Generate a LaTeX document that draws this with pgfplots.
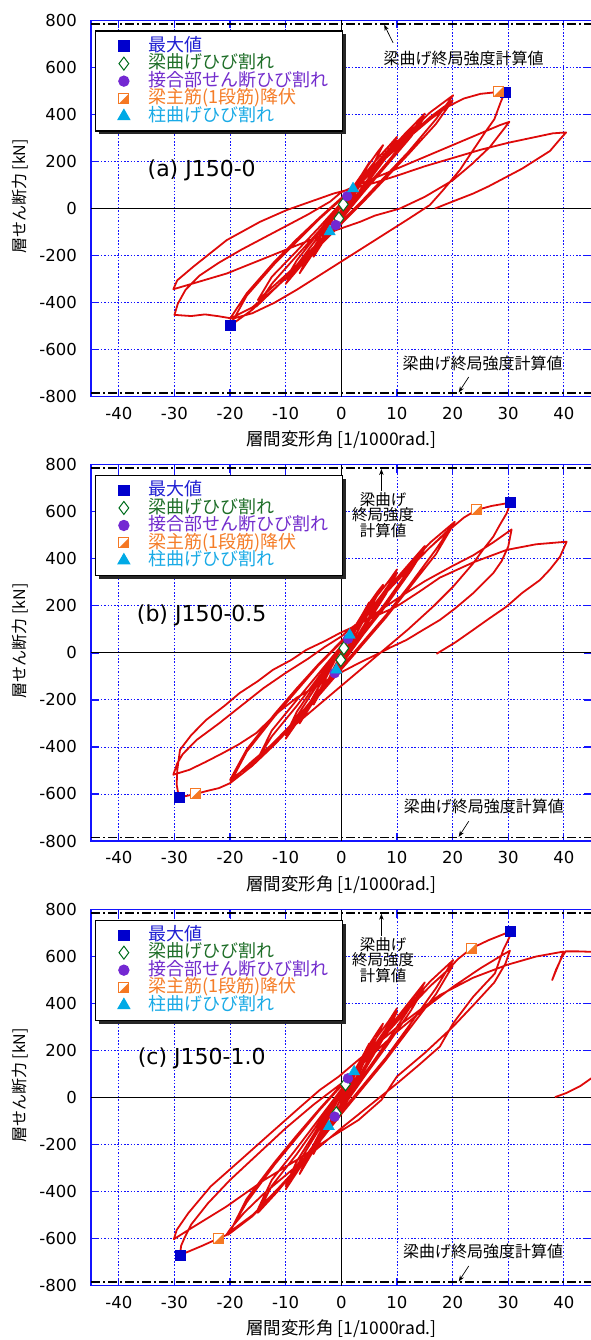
\documentclass[border=0pt]{standalone}
\usepackage{fontspec}
\setmainfont{DejaVu Sans}
\newfontfamily\cjk{Noto Sans CJK JP}
\usepackage{pgfplots}
\pgfplotsset{compat=1.18}
\usetikzlibrary{arrows.meta,plotmarks}

\definecolor{cmax}{RGB}{0,0,205}
\definecolor{cgreen}{RGB}{0,110,30}
\definecolor{cpurple}{RGB}{115,40,210}
\definecolor{corange}{RGB}{245,120,35}
\definecolor{ccyan}{RGB}{0,170,230}
\definecolor{cred}{RGB}{222,10,10}
\definecolor{cgrid}{RGB}{20,20,255}
\definecolor{lmax}{RGB}{30,30,210}
\definecolor{lgreen}{RGB}{30,110,40}
\definecolor{lpurple}{RGB}{115,45,205}
\definecolor{lorange}{RGB}{245,125,40}
\definecolor{lcyan}{RGB}{25,170,230}

\pgfdeclareplotmark{diagsq}{%
  \pgfpathrectangle{\pgfqpoint{-\pgfplotmarksize}{-\pgfplotmarksize}}{\pgfqpoint{2\pgfplotmarksize}{2\pgfplotmarksize}}%
  \pgfsetfillcolor{white}\pgfusepath{fill}%
  \pgfpathmoveto{\pgfqpoint{\pgfplotmarksize}{\pgfplotmarksize}}%
  \pgfpathlineto{\pgfqpoint{\pgfplotmarksize}{-\pgfplotmarksize}}%
  \pgfpathlineto{\pgfqpoint{-\pgfplotmarksize}{-\pgfplotmarksize}}%
  \pgfpathclose
  \pgfsetfillcolor{corange}\pgfusepath{fill}%
  \pgfpathrectangle{\pgfqpoint{-\pgfplotmarksize}{-\pgfplotmarksize}}{\pgfqpoint{2\pgfplotmarksize}{2\pgfplotmarksize}}%
  \pgfusepath{stroke}%
}

\newcommand{\lgtext}[2]{\makebox[170.3pt][l]{\cjk\fontsize{18}{18}\selectfont\textcolor{#1}{#2}}}
\newcommand{\lgshadow}{\fill[black!85] ([xshift=7.5pt,yshift=-14pt]rel axis cs:0,1) rectangle ([xshift=254.7pt,yshift=-114pt]rel axis cs:0,1);}

\pgfplotsset{
  lgmark/.style={legend image code/.code={\draw[##1] plot coordinates {(0pt,0pt)};}},
  hyst/.style={
    width=500.7pt, height=376.2pt, scale only axis,
    xmin=-45, xmax=45, ymin=-800, ymax=800,
    xtick={-40,-30,...,40}, ytick={-800,-600,...,800},
    grid=major,
    major grid style={cgrid, line width=0.9pt, dash pattern=on 1.5pt off 1.8pt},
    axis line style={cgrid, line width=1.3pt},
    tick style={cgrid, line width=1.2pt},
    major tick length=8pt,
    /pgf/number format/assume math mode=true,
    ticklabel style={font=\fontsize{16.5}{18}\selectfont},
    yticklabel style={inner sep=0pt, xshift=-14pt},
    xticklabel style={inner sep=0pt, yshift=-10.5pt},
    xlabel={\cjk 層間変形角 [1/1000rad.]},
    xlabel style={at={(axis description cs:0.5,-0.1151)}, anchor=center, inner sep=0pt, font=\fontsize{17.5}{18}\selectfont},
    ylabel={\cjk 層せん断力 [kN]},
    ylabel style={at={(axis description cs:-0.1418,0.532)}, anchor=center, inner sep=0pt, font=\fontsize{16}{18}\selectfont},
    legend cell align=left,
    legend style={at={(axis description cs:0,1)}, anchor=north west, xshift=3.5pt, yshift=-10pt,
      draw=black, line width=1.3pt, fill=white, inner xsep=23.1pt, inner ysep=6.25pt,
      row sep=0pt, column sep=19.3pt,
      nodes={inner sep=0pt, anchor=west, text height=14pt, text depth=3.5pt}},
    redc/.style={cred, line width=1.8pt, line join=round, forget plot},
    zerol/.style={black, line width=0.9pt, forget plot},
    calcl/.style={black, line width=1.8pt, dash pattern=on 9pt off 3pt on 2pt off 3pt, forget plot},
  },
  mmax/.style={only marks, mark=square*, mark size=5pt, color=cmax, lgmark},
  mdia/.style={only marks, mark=diamond*, mark size=6.5pt, color=cgreen, mark options={draw=cgreen, fill=white, line width=1pt}, lgmark},
  mcir/.style={only marks, mark=*, mark size=5pt, color=cpurple, lgmark},
  mora/.style={only marks, mark=diagsq, mark size=5pt, color=corange, mark options={draw=corange, line width=1pt}, lgmark},
  mtri/.style={only marks, mark=triangle*, mark size=6.5pt, color=ccyan, lgmark},
}

\begin{document}
\begin{tikzpicture}
\useasboundingbox (0,0) rectangle (591pt,-1340pt);

% ---------------- (a) ----------------
\begin{axis}[hyst, at={(91pt,-20.5pt)}, anchor=north west]
\addplot[zerol] coordinates {(0,-800) (0,800)};
\addplot[zerol] coordinates {(-45,0) (45,0)};
\addplot[calcl] coordinates {(-45,785) (45,785)};
\addplot[calcl] coordinates {(-45,-785) (45,-785)};
\addplot[redc] coordinates {
(0,0) (1,45) (1.9,80) (2.5,105)
(1.9,72) (1,29) (0,-17) (-1,-59) (-1.9,-93) (-2.5,-115)
(-1.8,-80) (-0.5,-25) (1,35) (2.5,95) (3.8,150) (5,195)
(4,148) (2,60) (0,-25) (-2,-95) (-3.8,-160) (-5,-205)
(-4,-150) (-2,-65) (0,15) (2.5,105) (5,190) (6.5,240) (7.5,270)
(6,200) (3,85) (0,-30) (-3,-125) (-5.5,-205) (-7.5,-275)
(-6,-205) (-3,-90) (0,20) (3,110) (6,200) (8.5,265) (10,305)
(8,225) (4,100) (0,-35) (-4,-150) (-7.5,-250) (-10,-320)
(-8,-240) (-4,-115) (0,15) (4,130) (7.5,225) (10,290)
(8,215) (4,90) (0,-40) (-4,-150) (-7.5,-240) (-10,-300)
(-8,-220) (-4,-100) (0,20) (4,125) (8,230) (11.5,320) (15,404)
(12.5,320) (8,190) (4,80) (0,-40) (-4,-140) (-8,-240) (-11.5,-330) (-15.3,-417)
(-12.5,-320) (-8,-200) (-4,-95) (0,15) (4,120) (8,220) (11.5,305) (15,390)
(12.5,305) (8,180) (4,70) (0,-45) (-4,-145) (-8,-240) (-11.5,-315) (-15,-389)
(-12.5,-290) (-8,-180) (-4,-80) (0,25) (4,125) (8,225) (12,320) (16,410) (20.1,482)
(17,380) (12,240) (8,140) (4,40) (0,-55) (-4,-150) (-8,-250) (-12,-340) (-16,-430) (-20,-498)
(-17,-370) (-12,-235) (-8,-140) (-4,-45) (0,40) (4,130) (8,220) (12,305) (16,390) (20,460)
(17,360) (12,230) (8,130) (4,30) (0,-65) (-4,-160) (-8,-255) (-12,-340) (-16,-420) (-20,-468)
(-17,-360) (-12,-225) (-8,-130) (-4,-40) (0,45) (4,130) (8,215) (12,300) (16,380) (19,432) (22,468) (25,488) (28.2,496) (29.4,497)
(28.6,450) (27.5,380) (26,330) (23.7,249) (21.3,164) (18.3,79) (15.9,15) (12,-45) (8,-105) (4,-165) (0,-225) (-4,-285) (-8,-345) (-12,-400) (-16,-445) (-19.5,-468) (-22,-458) (-24.5,-450) (-27,-457) (-30,-452)
(-29.4,-405) (-28,-345) (-25.5,-285) (-22,-230) (-18,-175) (-14,-125) (-10,-75) (-6,-25) (-2,30) (0,70) (5,120) (10,170) (15,220) (20,270) (25,320) (28.5,355) (30.2,369)
(29.1,335) (26.7,262) (23.5,190) (20,120) (15,50) (10.5,0) (6,-30) (3.4,-56) (-2.6,-105) (-8.6,-162) (-14.6,-219) (-20.6,-276) (-26.6,-318) (-30.2,-343)
(-29.5,-305) (-26.6,-247) (-20.6,-134) (-14.6,-56) (-9.8,-6) (-5.6,29) (-1.4,64) (2,85) (6,110) (10,140) (15,180) (20,215) (25,250) (30,280) (35,305) (38,320) (40.4,324)
(39.3,295) (37.5,245) (35.5,215) (32.5,170) (29.7,135) (26.5,95) (23.7,64) (20,30) (16.8,0)
};
\lgshadow
\addplot[mmax] coordinates {(29.4,497) (-20,-498)};
\addlegendentry{\lgtext{lmax}{最大値}}
\addplot[mdia] coordinates {(0.35,18) (-0.45,-42)};
\addlegendentry{\lgtext{lgreen}{梁曲げひび割れ}}
\addplot[mcir] coordinates {(1.05,53) (-1.0,-70)};
\addlegendentry{\lgtext{lpurple}{接合部せん断ひび割れ}}
\addplot[mora] coordinates {(28.2,496)};
\addlegendentry{\lgtext{lorange}{梁主筋(1段筋)降伏}}
\addplot[mtri] coordinates {(2.1,85) (-2.1,-98)};
\addlegendentry{\lgtext{lcyan}{柱曲げひび割れ}}
\node[font=\fontsize{22}{22}\selectfont, inner sep=0pt] at (axis cs:-25.1,164) {(a) J150-0};
\node[font=\cjk\fontsize{16}{16}\selectfont, inner sep=0pt] at (axis cs:22,640) {梁曲げ終局強度計算値};
\draw[-{Stealth[length=6pt,width=4.5pt]}, line width=0.7pt] (axis cs:9.3,705) -- (axis cs:7.7,782);
\node[font=\cjk\fontsize{16}{16}\selectfont, inner sep=0pt] at (axis cs:25.4,-657) {梁曲げ終局強度計算値};
\draw[-{Stealth[length=6pt,width=4.5pt]}, line width=0.7pt] (axis cs:22.9,-716) -- (axis cs:21.1,-782);
\end{axis}

% ---------------- (b) ----------------
\begin{axis}[hyst, at={(91pt,-464.8pt)}, anchor=north west]
\addplot[zerol] coordinates {(0,-800) (0,800)};
\addplot[zerol] coordinates {(-45,0) (45,0)};
\addplot[calcl] coordinates {(-45,785) (45,785)};
\addplot[calcl] coordinates {(-45,-785) (45,-785)};
\addplot[redc] coordinates {
(0,0) (0.45,20) (1.5,76) (2.5,120)
(1.8,85) (0.8,35) (-0.1,-30) (-0.9,-72) (-1.8,-100) (-2.5,-125)
(-1.8,-85) (-0.5,-25) (1,45) (2.5,110) (3.8,165) (5,215)
(4,165) (2,70) (0,-25) (-2,-105) (-3.8,-170) (-5,-220)
(-4,-165) (-2,-70) (0,20) (2.5,115) (5,210) (6.5,260) (7.5,290)
(6,225) (3,95) (0,-30) (-3,-135) (-5.5,-225) (-7.5,-300)
(-6,-225) (-3,-100) (0,25) (3,125) (6,230) (8.5,305) (10,355)
(8,265) (4,115) (0,-40) (-4,-170) (-7.5,-280) (-10,-365)
(-8,-270) (-4,-125) (0,20) (4,145) (7.5,255) (10,340)
(8,250) (4,100) (0,-45) (-4,-170) (-7.5,-270) (-10,-350)
(-8,-250) (-4,-110) (0,25) (4,145) (8,265) (11.5,360) (15,455)
(12.5,365) (8,215) (4,90) (0,-45) (-4,-160) (-8,-280) (-11.5,-375) (-15.3,-460)
(-12.5,-355) (-8,-225) (-4,-100) (0,20) (4,140) (8,255) (11.5,350) (15,445)
(12.5,350) (8,200) (4,80) (0,-50) (-4,-165) (-8,-280) (-11.5,-365) (-15,-450)
(-12.5,-330) (-8,-200) (-4,-85) (0,30) (4,145) (8,260) (12,370) (16,470) (20.4,558)
(17,440) (12,280) (8,160) (4,50) (0,-60) (-4,-170) (-8,-285) (-12,-390) (-16,-480) (-20,-554)
(-17,-420) (-12,-270) (-8,-160) (-4,-50) (0,45) (4,150) (8,255) (12,355) (16,450) (20,540)
(17,420) (12,270) (8,150) (4,40) (0,-70) (-4,-180) (-8,-290) (-12,-390) (-16,-470) (-20,-540)
(-17,-410) (-12,-260) (-8,-150) (-4,-45) (0,50) (4,150) (8,255) (12,355) (16,450) (20,535) (22,575) (24.3,608) (27,625) (30.4,639)
(29.7,593) (28.5,545) (27.3,494) (25.5,440) (23.7,381) (20.1,282) (16.5,197) (12,100) (8,20) (4,-60) (0,-140) (-4,-220) (-8,-300) (-12,-380) (-16,-460) (-18.5,-515) (-20,-554) (-22,-575) (-24.3,-588) (-26.2,-600) (-29.2,-615)
(-29.6,-560) (-29.5,-500) (-29,-412) (-27,-350) (-24.3,-285) (-21,-225) (-18.3,-171) (-15,-120) (-12.3,-72) (-9,-30) (-6.3,13) (-3,50) (-0.3,84) (3,120) (6,165) (10,230) (15,305) (20,370) (23.7,415) (27.3,470) (30.6,525)
(30,452) (28.8,390) (27.3,339) (23.7,254) (20.5,190) (17.7,140) (14.5,95) (11.7,55) (9,25) (6.9,0) (3,-45) (-0.3,-86) (-4,-135) (-8,-190) (-12,-265) (-15.3,-341) (-18.5,-390) (-21.3,-426) (-24.5,-465) (-27.3,-497) (-30.2,-518)
(-29.5,-470) (-28.5,-430) (-26,-370) (-22,-300) (-18,-225) (-14,-150) (-10,-85) (-6,-25) (-3,25) (0,70) (2.1,112) (6,155) (9.9,197) (14,260) (17.7,320) (23.7,385) (29.7,438) (35,462) (40.5,473)
(39.3,409) (37.5,355) (35.7,310) (32.5,255) (29.7,197) (26.5,145) (23.7,98) (20.5,45) (17.1,-4)
};
\lgshadow
\addplot[mmax] coordinates {(30.4,639) (-29.2,-615)};
\addlegendentry{\lgtext{lmax}{最大値}}
\addplot[mdia] coordinates {(0.45,20) (-0.1,-30)};
\addlegendentry{\lgtext{lgreen}{梁曲げひび割れ}}
\addplot[mcir] coordinates {(1.2,60) (-1.2,-86)};
\addlegendentry{\lgtext{lpurple}{接合部せん断ひび割れ}}
\addplot[mora] coordinates {(24.3,608) (-26.2,-600)};
\addlegendentry{\lgtext{lorange}{梁主筋(1段筋)降伏}}
\addplot[mtri] coordinates {(1.5,76) (-0.9,-72)};
\addlegendentry{\lgtext{lcyan}{柱曲げひび割れ}}
\node[font=\fontsize{22}{22}\selectfont, inner sep=0pt] at (axis cs:-25.1,161) {(b) J150-0.5};
\node[font=\cjk\fontsize{15.5}{15.5}\selectfont, inner sep=0pt, align=center] at (axis cs:7.5,586) {梁曲げ\\終局強度\\計算値};
\draw[-{Stealth[length=6pt,width=4.5pt]}, line width=0.7pt] (axis cs:7.2,688) -- (axis cs:7.2,782);
\node[font=\cjk\fontsize{16}{16}\selectfont, inner sep=0pt] at (axis cs:25.6,-654) {梁曲げ終局強度計算値};
\draw[-{Stealth[length=6pt,width=4.5pt]}, line width=0.7pt] (axis cs:22.9,-716) -- (axis cs:21.1,-782);
\end{axis}

% ---------------- (c) ----------------
\begin{axis}[hyst, at={(91pt,-909.5pt)}, anchor=north west]
\addplot[zerol] coordinates {(0,-800) (0,800)};
\addplot[zerol] coordinates {(-45,0) (45,0)};
\addplot[calcl] coordinates {(-45,785) (45,785)};
\addplot[calcl] coordinates {(-45,-785) (45,-785)};
\addplot[redc] coordinates {
(0,0) (0.75,57) (1.2,82) (2.3,110) (2.6,125)
(1.8,85) (0.8,30) (-0.3,-40) (-0.9,-67) (-1.2,-81) (-2.3,-123) (-2.6,-130)
(-1.8,-90) (-0.5,-25) (1,50) (2.5,115) (3.8,175) (5,230)
(4,175) (2,75) (0,-25) (-2,-110) (-3.8,-185) (-5,-240)
(-4,-175) (-2,-75) (0,20) (2.5,120) (5,225) (6.5,280) (7.5,315)
(6,240) (3,100) (0,-30) (-3,-145) (-5.5,-245) (-7.5,-325)
(-6,-245) (-3,-110) (0,25) (3,135) (6,245) (8.5,325) (10,380)
(8,285) (4,125) (0,-40) (-4,-180) (-7.5,-300) (-10,-390)
(-8,-290) (-4,-135) (0,20) (4,155) (7.5,275) (10,365)
(8,270) (4,110) (0,-45) (-4,-180) (-7.5,-290) (-10,-375)
(-8,-270) (-4,-120) (0,25) (4,155) (8,280) (11.5,385) (15,490)
(12.5,390) (8,230) (4,95) (0,-45) (-4,-170) (-8,-300) (-11.5,-400) (-15,-490)
(-12.5,-375) (-8,-240) (-4,-105) (0,25) (4,150) (8,270) (11.5,370) (15,470)
(12.5,370) (8,215) (4,85) (0,-50) (-4,-175) (-8,-300) (-11.5,-390) (-15,-475)
(-12.5,-350) (-8,-215) (-4,-90) (0,35) (4,155) (8,275) (12,390) (16,495) (20.1,585)
(17,465) (12,300) (8,170) (4,55) (0,-60) (-4,-180) (-8,-300) (-12,-410) (-16,-505) (-20.4,-584)
(-17,-445) (-12,-285) (-8,-170) (-4,-55) (0,50) (4,160) (8,270) (12,375) (16,475) (20,560)
(17,440) (12,285) (8,160) (4,45) (0,-70) (-4,-190) (-8,-305) (-12,-410) (-16,-500) (-20,-570)
(-17,-430) (-12,-275) (-8,-160) (-4,-50) (0,55) (4,165) (8,275) (12,380) (16,475) (19,540) (21,590) (23.4,635) (26.5,670) (30.3,706)
(30.2,681) (29.1,628) (27.6,528) (25.5,475) (23.7,429) (20.1,316) (17.7,217) (14,140) (10,60) (5,-35) (0,-130) (-5,-230) (-10,-330) (-14,-410) (-17.5,-490) (-20,-560) (-20.7,-585) (-22,-598) (-25,-630) (-27.5,-655) (-29,-669)
(-28.8,-630) (-28.2,-597) (-27,-540) (-24,-450) (-20,-350) (-15,-240) (-10,-130) (-5,-30) (0,60) (5,170) (10,280) (15,380) (20,470) (25,550) (28.5,600) (30.3,625)
(29.5,570) (27.5,490) (24,400) (20,300) (15,190) (10,90) (7.2,-10) (3.1,-95) (-1.7,-166) (-7.1,-252) (-13.9,-351) (-20.7,-464) (-27.5,-563) (-30.1,-602)
(-29.6,-563) (-27.5,-491) (-23.5,-378) (-18.1,-265) (-12.7,-151) (-7.3,-38) (-3.9,32) (-0.5,89) (2.7,153) (10.5,309) (17.7,436) (23.7,510) (29.7,564) (35,600) (39.9,621) (39.3,580) (38.5,535) (37.9,500) (38.6,545) (39.6,595) (40.3,622) (42.5,622) (45,620) (48,618) (52,612) (55,600)
(54,450) (52,320) (49,200) (46,100) (43,50) (40.5,20) (38.4,2)
};
\lgshadow
\addplot[mmax] coordinates {(30.3,706) (-29,-669)};
\addlegendentry{\lgtext{lmax}{最大値}}
\addplot[mdia] coordinates {(0.75,57) (-0.9,-67)};
\addlegendentry{\lgtext{lgreen}{梁曲げひび割れ}}
\addplot[mcir] coordinates {(1.2,82) (-1.2,-81)};
\addlegendentry{\lgtext{lpurple}{接合部せん断ひび割れ}}
\addplot[mora] coordinates {(23.4,635) (-22,-598)};
\addlegendentry{\lgtext{lorange}{梁主筋(1段筋)降伏}}
\addplot[mtri] coordinates {(2.3,110) (-2.25,-123)};
\addlegendentry{\lgtext{lcyan}{柱曲げひび割れ}}
\node[font=\fontsize{22}{22}\selectfont, inner sep=0pt] at (axis cs:-25.1,169) {(c) J150-1.0};
\node[font=\cjk\fontsize{15.5}{15.5}\selectfont, inner sep=0pt, align=center] at (axis cs:7.5,585) {梁曲げ\\終局強度\\計算値};
\draw[-{Stealth[length=6pt,width=4.5pt]}, line width=0.7pt] (axis cs:7.2,688) -- (axis cs:7.2,782);
\node[font=\cjk\fontsize{16}{16}\selectfont, inner sep=0pt] at (axis cs:25.5,-656) {梁曲げ終局強度計算値};
\draw[-{Stealth[length=6pt,width=4.5pt]}, line width=0.7pt] (axis cs:22.9,-716) -- (axis cs:21.1,-782);
\end{axis}
\end{tikzpicture}
\end{document}
